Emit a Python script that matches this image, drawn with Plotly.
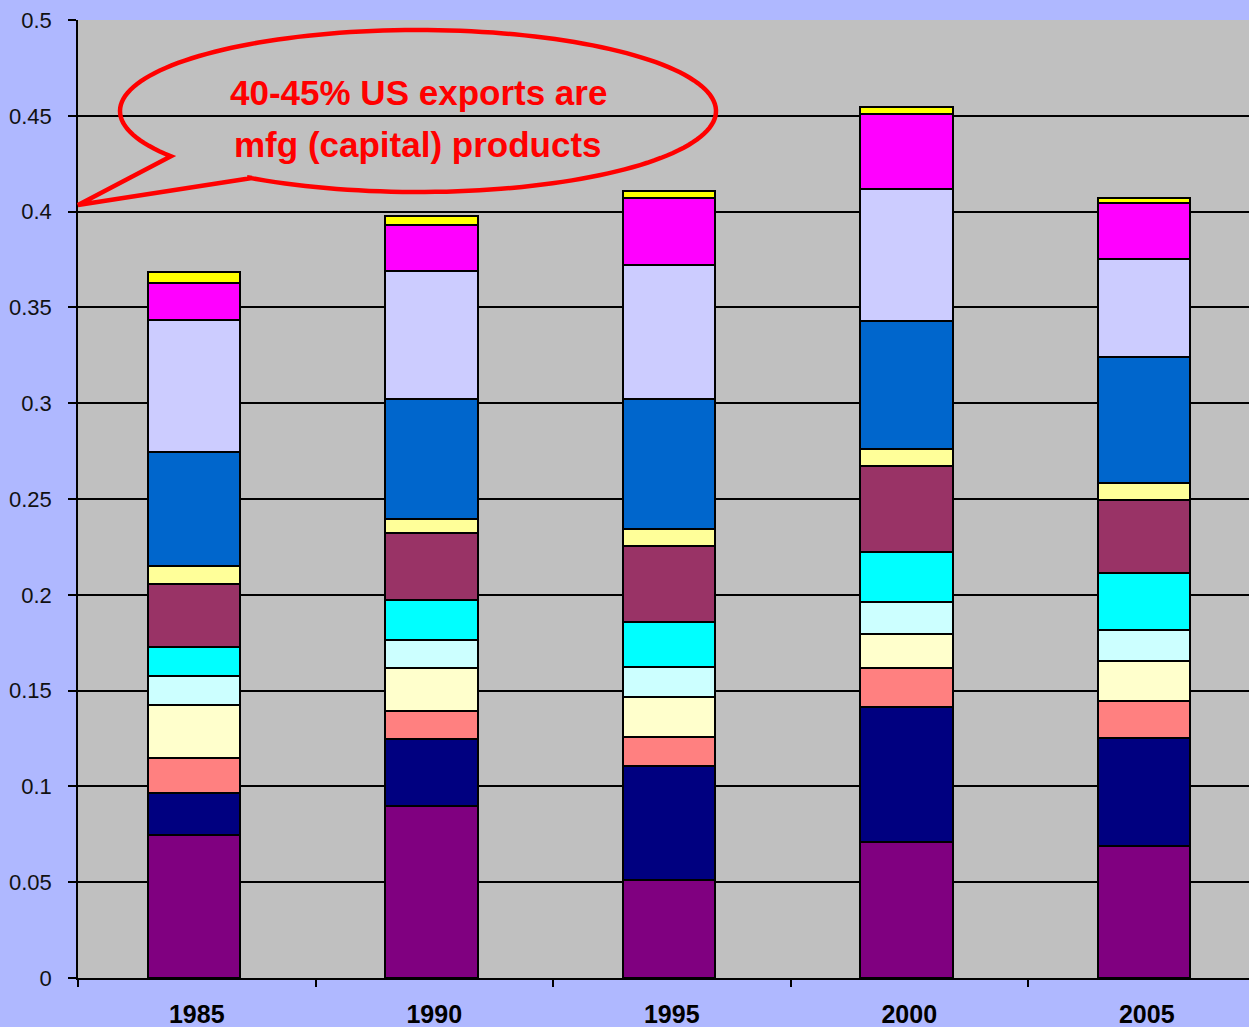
import numpy as np
import plotly.graph_objects as go

years = ["1985", "1990", "1995", "2000", "2005"]

# stacked segments, bottom to top (share of US exports)
seg_purple    = [0.0746, 0.0898, 0.0511, 0.0711, 0.0690]
seg_navy      = [0.0219, 0.0351, 0.0596, 0.0703, 0.0562]
seg_salmon    = [0.0184, 0.0143, 0.0152, 0.0206, 0.0192]
seg_ltyellow  = [0.0275, 0.0228, 0.0209, 0.0175, 0.0210]
seg_ltcyan    = [0.0153, 0.0146, 0.0154, 0.0167, 0.0162]
seg_cyan      = [0.0151, 0.0207, 0.0237, 0.0261, 0.0297]
seg_maroon    = [0.0328, 0.0350, 0.0396, 0.0448, 0.0382]
seg_paleyel   = [0.0094, 0.0073, 0.0088, 0.0089, 0.0088]
seg_blue      = [0.0595, 0.0626, 0.0679, 0.0669, 0.0658]
seg_lavender  = [0.0689, 0.0668, 0.0699, 0.0689, 0.0512]
seg_magenta   = [0.0193, 0.0240, 0.0350, 0.0391, 0.0292]
seg_yellow    = [0.0058, 0.0047, 0.0037, 0.0037, 0.0026]

series = [
    (seg_purple, "#800080"),
    (seg_navy, "#000080"),
    (seg_salmon, "#FF8080"),
    (seg_ltyellow, "#FFFFCC"),
    (seg_ltcyan, "#CCFFFF"),
    (seg_cyan, "#00FFFF"),
    (seg_maroon, "#993366"),
    (seg_paleyel, "#FFFF99"),
    (seg_blue, "#0066CC"),
    (seg_lavender, "#CCCCFF"),
    (seg_magenta, "#FF00FF"),
    (seg_yellow, "#FFFF00"),
]

y_ticks = [0, 0.05, 0.1, 0.15, 0.2, 0.25, 0.3, 0.35, 0.4, 0.45, 0.5]
y_labels = ["0", "0.05", "0.1", "0.15", "0.2", "0.25", "0.3", "0.35", "0.4", "0.45", "0.5"]

callout_line1 = "40-45% US exports are"
callout_line2 = "mfg (capital) products"

fig = go.Figure()
for vals, col in series:
    fig.add_trace(go.Bar(
        x=years, y=vals, width=0.39, offset=-0.206,
        marker=dict(color=col, line=dict(color="#000000", width=2)),
        showlegend=False, hoverinfo="skip",
    ))

W, H = 1249, 1027
ML, MR, MT, MB = 78, 0, 20, 49
PW, PH = W - ML - MR, H - MT - MB

def px2paper(px, py):
    return (px - ML) / PW, (H - MB - py) / PH

# speech-bubble callout (ellipse with a tail pointing to the axis)
cx, cy, rx, ry = 418, 111, 298, 81
th = np.radians(np.linspace(125, -214, 160))
pts = [(cx + rx * np.cos(t), cy + ry * np.sin(t)) for t in th]
pts += [(78, 205), (252, 178)]
path = ""
for i, (px, py) in enumerate(pts):
    xp, yp = px2paper(px, py)
    path += ("M" if i == 0 else "L") + f"{xp:.5f},{yp:.5f} "
path += "Z"
fig.add_shape(type="path", path=path, xref="paper", yref="paper",
              line=dict(color="#FF0000", width=4.5), fillcolor="rgba(0,0,0,0)")

tfont = dict(family="Liberation Sans, Arial, sans-serif",
             size=35, color="#FF0000", weight="bold")
for txt, py in [(callout_line1, 93), (callout_line2, 145)]:
    xp, yp = px2paper(418, py)
    fig.add_annotation(x=xp, y=yp, xref="paper", yref="paper", text=f"<b>{txt}</b>",
                       showarrow=False, font=tfont, xanchor="center", yanchor="middle")

fig.update_layout(
    width=W, height=H,
    margin=dict(l=ML, r=MR, t=MT, b=MB, pad=0),
    barmode="stack",
    paper_bgcolor="#AFB8FF",
    plot_bgcolor="#C0C0C0",
    xaxis=dict(
        type="category", range=[-0.5, -0.5 + PW / 237.5],
        showline=True, linecolor="#000000", linewidth=1.5,
        ticks="outside", tickson="boundaries", ticklen=7, tickcolor="#000000", tickwidth=1.5,
        tickfont=dict(family="Liberation Sans, Arial, sans-serif", size=25, color="#000000", weight="bold"),
        ticklabelstandoff=13,
        showgrid=False, automargin=False, fixedrange=True,
    ),
    yaxis=dict(
        range=[0, 0.5], tickvals=y_ticks, ticktext=y_labels,
        showline=True, linecolor="#000000", linewidth=1.5,
        ticks="outside", ticklen=8, tickcolor="#000000", tickwidth=1.5,
        showgrid=True, gridcolor="#000000", gridwidth=1.5,
        zeroline=False,
        tickfont=dict(family="Liberation Sans, Arial, sans-serif", size=22, color="#111111"),
        ticklabelstandoff=12,
        automargin=False, fixedrange=True,
    ),
)

fig.write_html("out.html")
